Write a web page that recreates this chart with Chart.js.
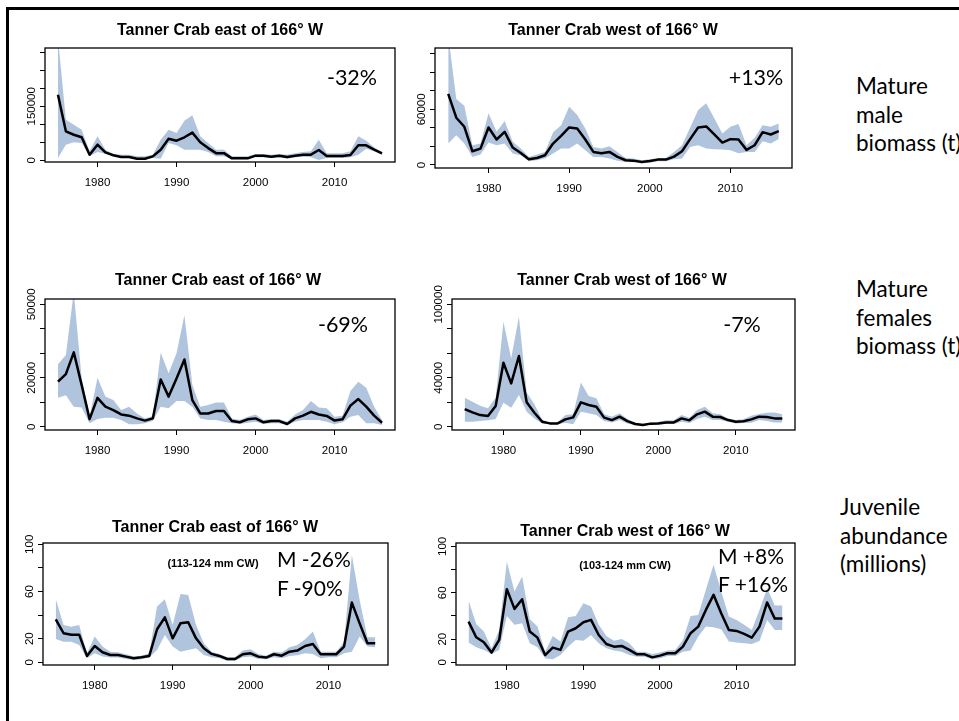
<!DOCTYPE html>
<html>
<head>
<meta charset="utf-8">
<script src="https://cdn.jsdelivr.net/npm/chart.js@4.4.1/dist/chart.umd.min.js"></script>
<style>
    body { margin: 0; background: #fff; }
    #page { position: relative; width: 959px; height: 721px; overflow: hidden; background: #fff;
            font-family: 'Liberation Sans', Arial, sans-serif; color: #000; }
    .frame { position: absolute; left: 6px; top: 7px; width: 1000px; height: 800px;
             border-left: 3px solid #000; border-top: 3px solid #000; }
    canvas { position: absolute; }
    .ttl { position: absolute; transform: translate(-50%, -50%); font-weight: bold; font-size: 16px; white-space: nowrap; }
    .sub { position: absolute; transform: translate(-50%, -50%); font-weight: bold; font-size: 11px; white-space: nowrap; }
    .pct { position: absolute; transform: translate(-50%, -50%); font-family: Lato, 'Open Sans', sans-serif; font-size: 21.5px; white-space: nowrap; }
    .mf  { position: absolute; transform: translateY(-50%); font-family: Lato, 'Open Sans', sans-serif; font-size: 21px; white-space: nowrap; }
    .side { position: absolute; font-family: Lato, 'Open Sans', sans-serif; font-size: 22.5px; line-height: 28.5px; white-space: nowrap; }
</style>
</head>
<body>
<div id="page">
    <div class="frame"></div>

    <div class="ttl" style="left:220px; top:30px;">Tanner Crab east of 166° W</div>
    <div class="ttl" style="left:613px; top:30px;">Tanner Crab west of 166° W</div>
    <div class="ttl" style="left:218px; top:280px;">Tanner Crab east of 166° W</div>
    <div class="ttl" style="left:622px; top:280px;">Tanner Crab west of 166° W</div>
    <div class="ttl" style="left:215px; top:527px;">Tanner Crab east of 166° W</div>
    <div class="ttl" style="left:625px; top:531px;">Tanner Crab west of 166° W</div>

    <div class="side" style="left:856px; top:72px;">Mature<br>male<br>biomass (t)</div>
    <div class="side" style="left:856px; top:275px;">Mature<br>females<br>biomass (t)</div>
    <div class="side" style="left:840px; top:493px;">Juvenile<br>abundance<br>(millions)</div>
</div>

<script>
// ─────────────────────────────────────────────────────────────
// Datos: años y series (media + banda de confianza) por panel
// ─────────────────────────────────────────────────────────────
const years = [1975, 1976, 1977, 1978, 1979, 1980, 1981, 1982, 1983, 1984,
               1985, 1986, 1987, 1988, 1989, 1990, 1991, 1992, 1993, 1994,
               1995, 1996, 1997, 1998, 1999, 2000, 2001, 2002, 2003, 2004,
               2005, 2006, 2007, 2008, 2009, 2010, 2011, 2012, 2013, 2014,
               2015, 2016];
const yearTicks = [1980, 1990, 2000, 2010];

// Mature male biomass east (t)
const maleEastMid = [182000, 80500, 71000, 64000, 15700, 43500, 22000, 14000, 9000, 9000,
                     4600, 4600, 11000, 29600, 60000, 54600, 64000, 77000, 50000, 34000,
                     20000, 20000, 5500, 5500, 5500, 13000, 13000, 10000, 13000, 9000,
                     13000, 15700, 15700, 28700, 12000, 12000, 12000, 14800, 41700, 41700,
                     29600, 19400];
const maleEastHi  = [340000, 113000, 99000, 85000, 25000, 66700, 29600, 17600, 15700, 15700,
                     11000, 11000, 15700, 57400, 85000, 76000, 110000, 125000, 66700, 48000,
                     29600, 29600, 11000, 11000, 11000, 17600, 17600, 15700, 17600, 15700,
                     19400, 23000, 25000, 57400, 20000, 20000, 20000, 25000, 66700, 54600,
                     36000, 23000];
const maleEastLo  = [6500, 43500, 50000, 48000, 11000, 23000, 18500, 11000, 6500, 6500,
                     1800, 1800, 6500, 4600, 48000, 41700, 29600, 29600, 29600, 23000,
                     11000, 11000, 2800, 2800, 2800, 8300, 8300, 6500, 8300, 4600,
                     8300, 10000, 8300, 900, 6500, 6500, 6500, 8300, 15700, 32400,
                     25000, 15700];

// Mature male biomass west (t)
const maleWestMid = [76700, 51000, 41200, 14800, 17700, 40500, 27500, 35800, 18800, 13000,
                     6100, 7600, 10500, 23100, 31500, 40500, 39400, 27500, 14100, 12700,
                     14100, 8700, 5100, 4700, 3300, 4300, 5800, 5800, 9000, 14800,
                     27900, 40500, 41600, 32900, 24200, 27900, 27500, 16300, 21300, 35400,
                     32900, 36500];
const maleWestHi  = [140000, 71300, 64000, 21300, 23100, 55700, 35800, 47400, 25000, 17700,
                     8700, 11200, 14100, 35100, 43000, 62900, 53900, 39400, 19500, 17700,
                     20300, 14100, 7600, 6900, 5100, 6100, 7600, 7600, 14100, 21300,
                     40100, 59300, 66500, 50300, 34000, 41200, 44100, 21300, 29300, 43000,
                     41200, 44800];
const maleWestLo  = [23100, 32200, 23100, 8700, 11200, 24200, 21300, 23100, 12300, 10500,
                     4000, 5100, 6900, 12300, 17700, 17700, 23100, 15900, 8700, 8700,
                     6900, 4700, 3300, 2900, 1800, 2500, 4000, 4000, 6100, 6900,
                     19500, 21300, 17700, 17000, 16600, 15900, 12700, 14100, 14100, 25700,
                     23100, 27900];

// Mature female biomass east (t)
const femEastMid = [18400, 21500, 30400, 17000, 3100, 11800, 8200, 6800, 5000, 4500,
                    3400, 2500, 3400, 19300, 12300, 19700, 27500, 10900, 5400, 5400,
                    6400, 6400, 2300, 1800, 3000, 3400, 1800, 2300, 2300, 1100,
                    3400, 4500, 6100, 5000, 4400, 2500, 3000, 8600, 11300, 8200,
                    4500, 1600];
const femEastHi  = [25500, 29300, 55000, 19700, 4100, 20000, 12300, 10900, 6800, 8200,
                    5400, 3400, 4400, 30200, 21800, 30000, 45600, 17000, 8200, 8900,
                    9900, 9900, 3400, 2700, 4100, 5000, 2700, 3100, 3100, 2000,
                    5000, 6800, 10500, 7800, 7500, 4100, 4500, 14600, 18400, 15900,
                    8200, 2700];
const femEastLo  = [11800, 12900, 8200, 7800, 1400, 3100, 3700, 3700, 2700, 1000,
                    1000, 1400, 2300, 8200, 7500, 10500, 10500, 8200, 3400, 2700,
                    2700, 2000, 1400, 1100, 1600, 2000, 1100, 1400, 1400, 700,
                    2000, 2700, 2700, 2700, 2000, 1000, 1800, 4100, 4800, 1400,
                    1400, 700];

// Mature female biomass west (t)
const femWestMid = [14400, 11700, 9500, 8700, 16900, 52300, 35400, 57800, 20000, 11400,
                    4100, 2700, 2700, 6000, 7600, 19900, 17700, 16300, 7400, 5400,
                    8200, 4600, 2200, 1400, 2500, 2700, 3500, 3500, 6800, 5200,
                    10100, 12300, 8200, 7900, 5400, 4100, 4400, 6000, 8200, 7900,
                    6800, 6800];
const femWestHi  = [23700, 20400, 17200, 15000, 23700, 85800, 55900, 89900, 28000, 18300,
                    5400, 3500, 3500, 9500, 10100, 36200, 25100, 23200, 10100, 8200,
                    10900, 6300, 3500, 2500, 3500, 4100, 5200, 5200, 9500, 7400,
                    13600, 16300, 10900, 10100, 6800, 5400, 6000, 9000, 10400, 11400,
                    11700, 10100];
const femWestLo  = [4100, 4100, 4600, 5200, 6300, 19600, 15500, 25900, 12300, 6800,
                    2700, 1900, 1900, 3300, 1900, 12300, 10900, 9500, 4600, 3500,
                    5400, 2700, 1400, 800, 1400, 1900, 2200, 2200, 4100, 3000,
                    6300, 8200, 5400, 5400, 4100, 2700, 3000, 3300, 5400, 4600,
                    3500, 3500];

// Juvenile abundance east (millions)
const juvEastMid = [36.4, 24.6, 23.4, 23.4, 5.4, 13.8, 8.5, 6.2, 6.2, 4.8,
                    3.4, 4.2, 5.4, 28.0, 38.1, 20.3, 33.0, 33.9, 20.3, 11.9,
                    7.1, 5.4, 2.8, 2.8, 6.8, 7.6, 4.8, 4.0, 6.8, 5.6,
                    9.0, 9.9, 13.8, 15.5, 6.8, 6.8, 6.8, 13.3, 50.6, 33.0,
                    16.1, 16.1];
const juvEastHi  = [53.4, 31.6, 30.2, 31.6, 7.6, 21.8, 13.3, 9.0, 8.5, 6.8,
                    4.8, 5.6, 7.6, 47.2, 53.4, 31.6, 57.9, 57.1, 31.6, 16.1,
                    9.0, 7.1, 4.2, 4.2, 9.9, 11.0, 7.1, 5.6, 9.0, 8.2,
                    12.7, 14.7, 19.5, 26.0, 9.0, 9.0, 9.0, 17.5, 91.0, 52.8,
                    21.2, 21.2];
const juvEastLo  = [19.8, 17.5, 17.5, 14.7, 3.4, 7.6, 4.8, 4.0, 4.0, 2.8,
                    2.0, 2.5, 4.0, 10.5, 23.2, 13.3, 9.0, 10.5, 11.9, 6.2,
                    4.2, 3.4, 1.4, 1.4, 4.2, 4.8, 2.8, 2.5, 4.2, 3.4,
                    5.4, 5.9, 7.6, 7.1, 3.4, 4.2, 4.2, 7.6, 9.0, 21.8,
                    13.3, 12.7];

// Juvenile abundance west (millions)
const juvWestMid = [35.1, 21.6, 17.3, 8.4, 19.3, 63.1, 46.1, 54.4, 26.5, 21.3,
                    6.3, 12.7, 10.7, 26.5, 29.4, 34.6, 36.6, 23.6, 15.8, 13.5,
                    14.1, 10.7, 6.9, 6.9, 4.3, 5.8, 7.8, 7.8, 13.5, 25.1,
                    30.8, 45.2, 58.2, 42.3, 27.9, 27.1, 24.5, 21.3, 30.8, 51.6,
                    37.7, 37.7];
const juvWestHi  = [53.3, 33.1, 26.5, 12.1, 27.9, 87.0, 61.1, 74.0, 37.2, 30.8,
                    9.2, 22.8, 17.9, 38.9, 40.0, 51.0, 48.1, 32.3, 22.8, 18.7,
                    20.2, 16.4, 9.2, 9.2, 7.2, 8.4, 10.1, 10.7, 19.3, 40.0,
                    40.9, 62.5, 84.1, 61.1, 39.5, 36.6, 32.3, 27.9, 45.2, 63.9,
                    49.0, 49.0];
const juvWestLo  = [17.0, 13.0, 10.7, 7.2, 10.7, 40.0, 32.3, 33.7, 16.4, 13.0,
                    3.5, 2.6, 6.3, 13.5, 19.3, 18.7, 23.6, 16.4, 12.1, 10.1,
                    9.2, 6.3, 4.9, 4.9, 2.6, 3.5, 5.5, 5.5, 9.2, 10.1,
                    22.2, 30.8, 30.2, 28.5, 17.9, 17.0, 16.4, 15.8, 18.4, 36.6,
                    27.9, 27.9];

// Marcas del eje Y y las etiquetas que R dejó visibles
const maleEastTicks = [0, 50000, 100000, 150000, 200000, 250000, 300000];
const maleEastLabels = [[0, '0'], [150000, '150000']];
const maleWestTicks = [0, 20000, 40000, 60000, 80000, 100000, 120000];
const maleWestLabels = [[0, '0'], [60000, '60000']];
const femEastTicks = [0, 10000, 20000, 30000, 40000, 50000];
const femEastLabels = [[0, '0'], [20000, '20000'], [50000, '50000']];
const femWestTicks = [0, 20000, 40000, 60000, 80000, 100000];
const femWestLabels = [[0, '0'], [40000, '40000'], [100000, '100000']];
const juvTicks = [0, 20, 40, 60, 80, 100];
const juvLabels = [[0, '0'], [20, '20'], [60, '60'], [100, '100']];

// Textos dentro de los paneles
const changeNotes = ['-32%', '+13%', '-69%', '-7%'];
const juvEastNotes = ['M -26%', 'F -90%'];
const juvWestNotes = ['M +8%', 'F +16%'];

// ─────────────────────────────────────────────────────────────
// Geometría de cada panel (caja del gráfico en px de la página)
// ─────────────────────────────────────────────────────────────
const panels = [
    { L: 45,  R: 395, T: 48,  B: 162, yMin: -4630, yMax: 312000, ticks: maleEastTicks, labels: maleEastLabels, mid: maleEastMid, hi: maleEastHi, lo: maleEastLo },
    { L: 435, R: 792, T: 48,  B: 168, yMin: -3250, yMax: 126200, ticks: maleWestTicks, labels: maleWestLabels, mid: maleWestMid, hi: maleWestHi, lo: maleWestLo },
    { L: 45,  R: 395, T: 299, B: 430, yMin: -1350, yMax: 52200,  ticks: femEastTicks,  labels: femEastLabels,  mid: femEastMid,  hi: femEastHi,  lo: femEastLo },
    { L: 452, R: 795, T: 299, B: 430, yMin: -2700, yMax: 104400, ticks: femWestTicks,  labels: femWestLabels,  mid: femWestMid,  hi: femWestHi,  lo: femWestLo },
    { L: 43,  R: 388, T: 543, B: 665, yMin: -2.3,  yMax: 101.1,  ticks: juvTicks,      labels: juvLabels,      mid: juvEastMid,  hi: juvEastHi,  lo: juvEastLo },
    { L: 456, R: 795, T: 543, B: 665, yMin: -2.3,  yMax: 102.9,  ticks: juvTicks,      labels: juvLabels,      mid: juvWestMid,  hi: juvWestHi,  lo: juvWestLo },
];

const AXIS_W = 45;   // espacio reservado para el eje Y
const AXIS_H = 30;   // espacio reservado para el eje X
const PAD_T  = 22;   // margen superior para que no se corten las etiquetas
const FONT   = 'Liberation Sans';

// Plugin: caja completa estilo R + etiquetas del eje Y giradas 90°
function makeBoxPlugin(labels) {
    return {
        id: 'rBox',
        afterDraw(chart) {
            const { ctx, chartArea: a, scales: { y } } = chart;
            ctx.save();
            ctx.strokeStyle = '#000';
            ctx.lineWidth   = 1.3;
            ctx.strokeRect(a.left, a.top, a.right - a.left, a.bottom - a.top);

            ctx.font         = `11.5px "${FONT}"`;
            ctx.fillStyle    = '#000';
            ctx.textAlign    = 'center';
            ctx.textBaseline = 'alphabetic';
            labels.forEach(([v, txt]) => {
                ctx.save();
                ctx.translate(a.left - 10, y.getPixelForValue(v));
                ctx.rotate(-Math.PI / 2);
                ctx.fillText(txt, 0, 0);
                ctx.restore();
            });
            ctx.restore();
        }
    };
}

const pts = arr => arr.map((v, i) => ({ x: years[i], y: v }));

const page = document.getElementById('page');

panels.forEach(p => {
    const cv = document.createElement('canvas');
    const w  = p.R - p.L + AXIS_W + 4;
    const h  = p.B - p.T + PAD_T + AXIS_H;
    cv.width  = w;
    cv.height = h;
    cv.style.left   = (p.L - AXIS_W) + 'px';
    cv.style.top    = (p.T - PAD_T) + 'px';
    cv.style.width  = w + 'px';
    cv.style.height = h + 'px';
    page.insertBefore(cv, page.children[1]);

    new Chart(cv.getContext('2d'), {
        type: 'line',
        plugins: [makeBoxPlugin(p.labels)],
        data: {
            datasets: [
                { data: pts(p.mid), borderColor: '#000', borderWidth: 2.5, borderJoinStyle: 'round',
                  pointRadius: 0, fill: false, tension: 0 },
                { data: pts(p.hi), borderColor: 'transparent', borderWidth: 0, pointRadius: 0,
                  backgroundColor: '#b0c4de', fill: '+1', tension: 0 },
                { data: pts(p.lo), borderColor: 'transparent', borderWidth: 0, pointRadius: 0,
                  fill: false, tension: 0 }
            ]
        },
        options: {
            responsive: false,
            animation: false,
            devicePixelRatio: 1,
            layout: { padding: { top: PAD_T, right: 4, left: 0, bottom: 0 } },
            plugins: { legend: { display: false }, tooltip: { enabled: false } },
            scales: {
                x: {
                    type: 'linear',
                    min: 1973.36,
                    max: 2017.64,
                    afterBuildTicks: s => { s.ticks = yearTicks.map(v => ({ value: v })); },
                    afterFit: s => { s.height = AXIS_H; },
                    border: { display: false },
                    grid: { drawOnChartArea: false, drawTicks: true, tickLength: 5, color: '#000', lineWidth: 1 },
                    ticks: { color: '#000', font: { family: FONT, size: 11.5 }, padding: 9,
                             maxRotation: 0, callback: v => String(v) }
                },
                y: {
                    min: p.yMin,
                    max: p.yMax,
                    afterBuildTicks: s => { s.ticks = p.ticks.map(v => ({ value: v })); },
                    afterFit: s => { s.width = AXIS_W; },
                    border: { display: false },
                    grid: { drawOnChartArea: false, drawTicks: true, tickLength: 5, color: '#000', lineWidth: 1 },
                    ticks: { display: false }
                }
            }
        }
    });
});

// Anotaciones de cambio porcentual y rangos de talla
function addText(cls, txt, x, y) {
    const d = document.createElement('div');
    d.className = cls;
    d.textContent = txt;
    d.style.left = x + 'px';
    d.style.top  = y + 'px';
    page.appendChild(d);
}
addText('pct', changeNotes[0], 352, 77);
addText('pct', changeNotes[1], 756, 77);
addText('pct', changeNotes[2], 343, 324);
addText('pct', changeNotes[3], 742, 324);
addText('sub', '(113-124 mm CW)', 213, 563);
addText('sub', '(103-124 mm CW)', 625, 565);
addText('mf', juvEastNotes[0], 277, 558);
addText('mf', juvEastNotes[1], 277, 587);
addText('mf', juvWestNotes[0], 718, 555);
addText('mf', juvWestNotes[1], 718, 583);
</script>
</body>
</html>
